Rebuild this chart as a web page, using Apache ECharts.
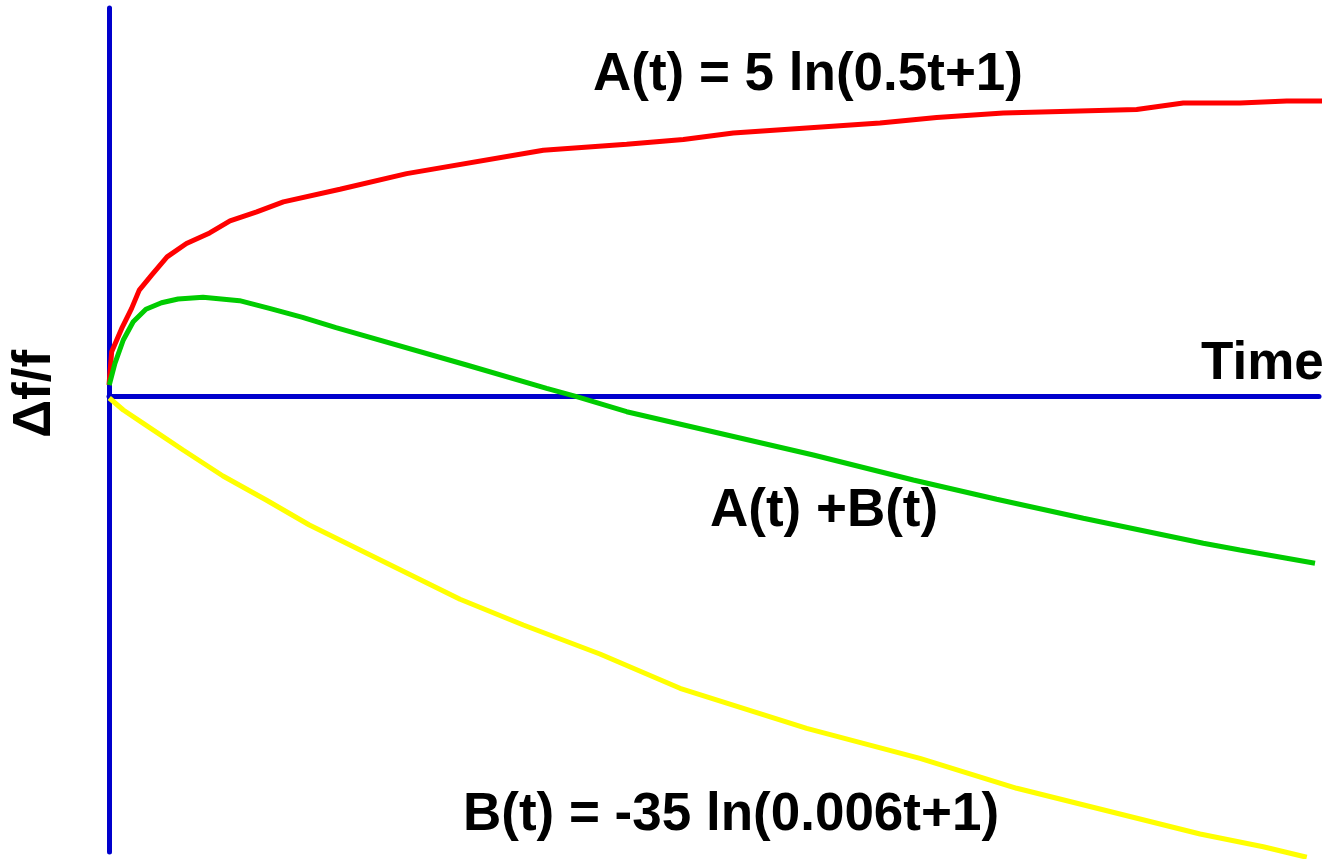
<!DOCTYPE html>
<html>
<head>
<meta charset="utf-8">
<script src="https://cdn.jsdelivr.net/npm/echarts@6/dist/echarts.min.js"></script>
<style>
html,body{margin:0;padding:0;background:#ffffff;}
#chart{width:1328px;height:859px;}
</style>
</head>
<body>
<div id="chart"></div>
<script>
// A(t) = 5 ln(0.5t+1)  (red)
const timeA = [0, 0.22, 1.05, 1.87, 2.50, 3.52, 4.80, 6.40, 8.32, 10.0, 12.21, 14.41, 19.09, 24.60, 35.89, 42.78, 47.47, 51.59, 63.72, 68.40, 73.91, 84.93, 88.78, 93.47, 97.33, 100.33];
const valuesA = [1.15, 4.48, 6.81, 8.81, 10.64, 12.14, 13.96, 15.30, 16.36, 17.56, 18.46, 19.46, 20.72, 22.29, 24.62, 25.22, 25.69, 26.35, 27.35, 27.89, 28.35, 28.69, 29.35, 29.35, 29.55, 29.55];

// B(t) = -35 ln(0.006t+1)  (yellow)
const timeB = [0.02, 1.18, 2.83, 6.12, 9.42, 12.99, 16.56, 20.75, 29.01, 34.24, 40.57, 47.19, 57.66, 67.02, 75.02, 90.17, 95.39, 98.99];
const valuesB = [-0.15, -1.35, -2.68, -5.35, -7.95, -10.35, -12.85, -15.35, -20.28, -22.85, -25.75, -29.18, -33.18, -36.18, -39.18, -43.75, -45.02, -46.08];

// A(t) + B(t)  (green)
const timeSum = [0.02, 0.49, 1.18, 2.00, 3.05, 4.34, 5.71, 7.77, 10.79, 13.26, 16.00, 18.76, 29.56, 36.17, 38.65, 42.78, 58.21, 66.47, 73.36, 80.52, 90.44, 93.47, 99.67];
const valuesSum = [1.15, 3.32, 5.65, 7.48, 8.72, 9.38, 9.75, 9.92, 9.58, 8.82, 7.92, 6.88, 3.15, 0.82, -0.02, -1.52, -5.85, -8.35, -10.28, -12.18, -14.68, -15.35, -16.68];

// texts
const labelA = 'A(t) = 5 ln(0.5t+1)';
const labelB = 'B(t) = -35 ln(0.006t+1)';
const labelSum = 'A(t) +B(t)';
const xName = 'Time';
const yName = 'Δf/f';

const pairs = (xs, ys) => xs.map((x, i) => [x, ys[i]]);

const chart = echarts.init(document.getElementById('chart'), null, {renderer: 'canvas'});

const axisBlue = '#0000CC';
const fontFam = '"Liberation Sans", Arial, Helvetica, sans-serif';
const txt = (text, x, y, extra) => Object.assign({
  type: 'text', x: x, y: y, z: 100,
  style: {
    text: text, fill: '#000000', fontFamily: fontFam, fontWeight: 'bold', fontSize: 53,
    align: 'left', verticalAlign: 'middle'
  }
}, extra || {});

const option = {
  animation: false,
  backgroundColor: '#ffffff',
  grid: {left: 109, right: 9, top: 8, bottom: 7, containLabel: false},
  xAxis: {
    type: 'value', min: 0, max: 100,
    axisLine: {show: true, onZero: true, lineStyle: {color: axisBlue, width: 5}},
    axisTick: {show: false}, axisLabel: {show: false}, splitLine: {show: false}
  },
  yAxis: {
    type: 'value', min: -45.55, max: 38.85,
    axisLine: {show: true, onZero: false, lineStyle: {color: axisBlue, width: 5}},
    axisTick: {show: false}, axisLabel: {show: false}, splitLine: {show: false}
  },
  series: [
    {name: labelA, type: 'line', data: pairs(timeA, valuesA), showSymbol: false, symbol: 'none', clip: false,
     lineStyle: {color: '#FF0000', width: 5}, itemStyle: {color: '#FF0000'}},
    {name: labelB, type: 'line', data: pairs(timeB, valuesB), showSymbol: false, symbol: 'none', clip: false,
     lineStyle: {color: '#FFFF00', width: 5}, itemStyle: {color: '#FFFF00'}},
    {name: labelSum, type: 'line', data: pairs(timeSum, valuesSum), showSymbol: false, symbol: 'none', clip: false,
     lineStyle: {color: '#00CC00', width: 5}, itemStyle: {color: '#00CC00'}}
  ],
  graphic: [
    txt(labelA, 593, 75),
    txt(labelSum, 710, 511),
    txt(labelB, 463, 815),
    txt(xName, 1201, 364),
    {type: 'text', x: 35, y: 394, rotation: Math.PI / 2, z: 100,
     style: {text: yName, fill: '#000000', fontFamily: fontFam, fontWeight: 'bold', fontSize: 53,
             align: 'center', verticalAlign: 'middle'}}
  ]
};
chart.setOption(option);
</script>
</body>
</html>
